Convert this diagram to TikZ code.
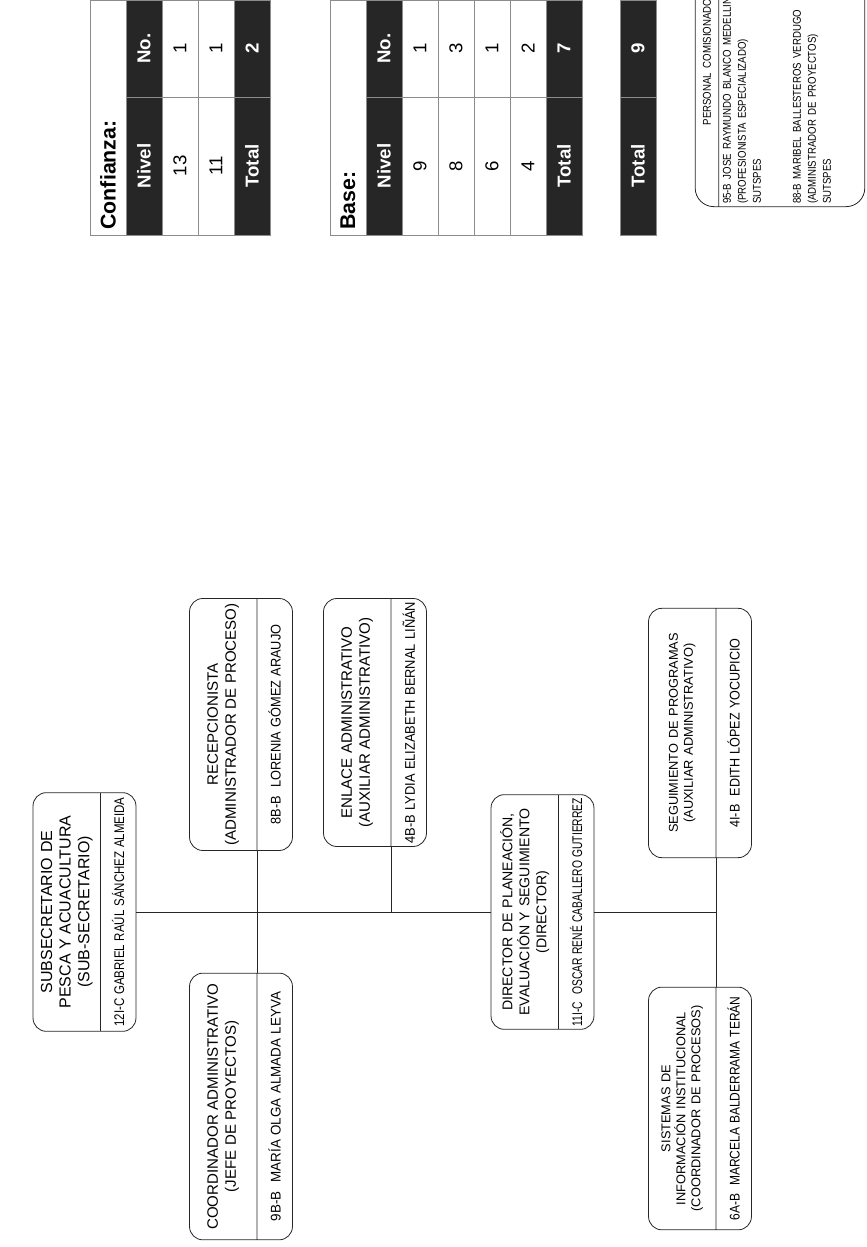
\documentclass[tikz,border=0pt]{standalone}
\usepackage{fontspec}
\setmainfont{Liberation Sans}
\newfontfamily\angosta[FakeStretch=0.85]{Liberation Sans}
\usepackage{graphicx}
\usetikzlibrary{shapes.multipart}

% title part: size, skip, lines
\newcommand{\titulo}[3]{\parbox[c][50pt][c]{\linewidth}{\centering\fontsize{#1}{#2}\selectfont #3}}
% name part: width to fill, text
\newcommand{\nombre}[2]{\parbox[c][26pt][c]{\linewidth}{\centering\resizebox{#1}{\height}{#2}}}

\tikzset{
  caja/.style={rectangle split, rectangle split parts=2, draw=black!85, line width=0.6pt,
    rounded corners=10pt, inner xsep=2pt, inner ysep=0pt,
    font=\fontsize{10.5}{12.5}\selectfont},
  linea/.style={draw=black!85, line width=0.6pt},
  celda/.style={draw=black!45, line width=0.6pt, inner sep=0pt, minimum height=27pt,
    font=\fontsize{14}{14}\selectfont},
  oscura/.style={celda, fill=black!85, text=white, font=\fontsize{14}{14}\selectfont\bfseries},
  colniv/.style={minimum width=103.5pt},
  colno/.style={minimum width=72.75pt},
}

\begin{document}
\begin{tikzpicture}[x=0.75pt,y=0.75pt]
\begin{scope}[rotate=90, transform shape]
\useasboundingbox (0,0) rectangle (1247,867);

%Org boxes
\node [caja, text width=175pt] (sub) at (335,782.5) {\titulo{12}{14}{SUBSECRETARIO DE\\PESCA Y ACUACULTURA\\(SUB-SECRETARIO)}\nodepart{two}\nombre{172pt}{12I-C GABRIEL RAÚL SÁNCHEZ ALMEIDA}};
\node [caja, text width=196pt] (coord) at (140.5,626) {\titulo{11.3}{13.5}{COORDINADOR ADMINISTRATIVO\\(JEFE DE PROYECTOS)}\nodepart{two}\nombre{172pt}{9B-B\ \ MARÍA OLGA ALMADA LEYVA}};
\node [caja, text width=185pt] (recep) at (522.5,626) {\titulo{11.3}{13.5}{RECEPCIONISTA\\(ADMINISTRADOR DE PROCESO)}\nodepart{two}\nombre{150pt}{8B-B\ \ LORENIA GÓMEZ ARAUJO}};
\node [caja, text width=182pt] (enlace) at (524.5,492) {\titulo{11.3}{13.5}{ENLACE ADMINISTRATIVO\\(AUXILIAR ADMINISTRATIVO)}\nodepart{two}\nombre{181pt}{4B-B LYDIA ELIZABETH BERNAL LIÑÁN}};
\node [caja, text width=172pt] (dir) at (335,324.5) {\titulo{10.6}{12.8}{DIRECTOR DE PLANEACIÓN,\\EVALUACIÓN Y SEGUIMIENTO\\(DIRECTOR)}\nodepart{two}\nombre{171pt}{11I-C\ \ OSCAR RENÉ CABALLERO GUTIERREZ}};
\node [caja, text width=178pt] (sist) at (138.5,167) {\titulo{9.6}{11.3}{SISTEMAS DE\\INFORMACIÓN INSTITUCIONAL\\(COORDINADOR DE PROCESOS)}\nodepart{two}\nombre{168pt}{6A-B\ \ MARCELA BALDERRAMA TERÁN}};
\node [caja, text width=183pt] (segui) at (514,167) {\titulo{9.6}{11.3}{SEGUIMIENTO DE PROGRAMAS\\(AUXILIAR ADMINISTRATIVO)}\nodepart{two}\nombre{142pt}{4I-B\ \ EDITH LÓPEZ YOCUPICIO}};

%Connectors
\coordinate (nudo) at (dir.south |- segui.text split west);
\draw [linea] (sub.south) -- (dir.north);
\draw [linea] (coord.text split east) -- (recep.text split west);
\draw [linea] (enlace.text split west) -- (enlace.text split west -| sub.south);
\draw [linea] (dir.south) -- (nudo);
\draw [linea] (sist.text split east) -- (segui.text split west);

%Table: Confianza
\node [celda, minimum width=176.25pt, text width=168pt, font=\fontsize{16}{16}\selectfont\bfseries] (cTit) at (1129.5,759) {Confianza:};
\node [oscura, colniv] (cNiv) at (1081,723) {Nivel};
\node [oscura, colno] (cNo) at (1198.5,723) {No.};
\node [celda, colniv] (c13) at (1081,687) {13};
\node [celda, colno] (c13n) at (1198.5,687) {1};
\node [celda, colniv] (c11) at (1081,651) {11};
\node [celda, colno] (c11n) at (1198.5,651) {1};
\node [oscura, colniv] (cTot) at (1081,615) {Total};
\node [oscura, colno] (cTotn) at (1198.5,615) {2};

%Table: Base
\node [celda, minimum width=176.25pt, text width=168pt, font=\fontsize{16}{16}\selectfont\bfseries] (bTit) at (1129.5,519) {Base:};
\node [oscura, colniv] (bNiv) at (1081,483) {Nivel};
\node [oscura, colno] (bNo) at (1198.5,483) {No.};
\node [celda, colniv] (b9) at (1081,447) {9};
\node [celda, colno] (b9n) at (1198.5,447) {1};
\node [celda, colniv] (b8) at (1081,411) {8};
\node [celda, colno] (b8n) at (1198.5,411) {3};
\node [celda, colniv] (b6) at (1081,375) {6};
\node [celda, colno] (b6n) at (1198.5,375) {1};
\node [celda, colniv] (b4) at (1081,339) {4};
\node [celda, colno] (b4n) at (1198.5,339) {2};
\node [oscura, colniv] (bTot) at (1081,303) {Total};
\node [oscura, colno] (bTotn) at (1198.5,303) {7};

%Grand total
\node [oscura, colniv] (gTot) at (1081,229) {Total};
\node [oscura, colno] (gTotn) at (1198.5,229) {9};

%Personal comisionado
\node [caja, rounded corners=14pt, text width=213pt, font=\angosta] (pers) at (1185,87) {\parbox[c][17pt][c]{\linewidth}{\centering\fontsize{8.5}{10}\selectfont PERSONAL COMISIONADO}\nodepart{two}\parbox[c][109pt][t]{\linewidth}{\vspace{3pt}\fontsize{8.5}{11.25}\selectfont
95-B JOSE RAYMUNDO BLANCO MEDELLIN\\(PROFESIONISTA ESPECIALIZADO)\\SUTSPES\\[18.75pt]
88-B MARIBEL BALLESTEROS VERDUGO\\(ADMINISTRADOR DE PROYECTOS)\\SUTSPES}};

\end{scope}
\end{tikzpicture}
\end{document}
